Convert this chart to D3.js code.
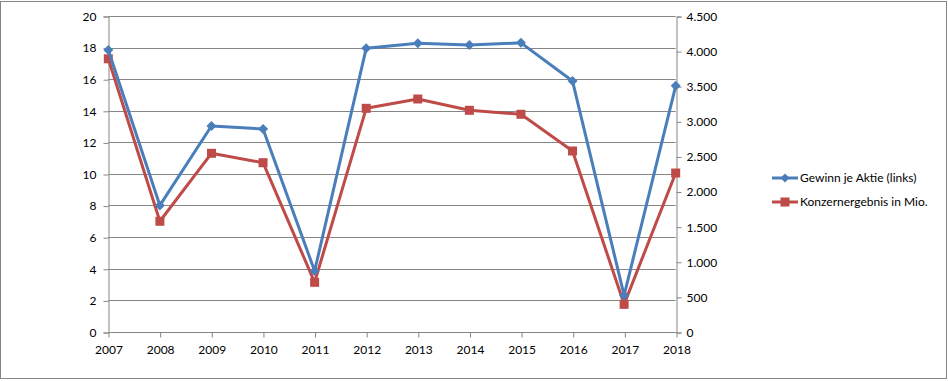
<!DOCTYPE html>
<html><head><meta charset="utf-8">
<script src="https://cdn.jsdelivr.net/npm/d3@7"></script>
<style>body{margin:0;background:#fff}svg{display:block}text{font-family:Lato,"Open Sans",sans-serif;font-size:12px;fill:#000}</style>
</head><body><svg id="c" width="948" height="381"></svg>
<script>
const years = ["2007","2008","2009","2010","2011","2012","2013","2014","2015","2016","2017","2018"];
const gewinn = [17.85,8.0,13.03,12.84,3.85,17.95,18.27,18.16,18.3,15.88,2.3,15.58];
const konzern = [3890,1574,2543,2409,704,3184,3317,3156,3099,2576,390,2262];
const leftTicks = [0,2,4,6,8,10,12,14,16,18,20];
const rightTicks = [0,500,1000,1500,2000,2500,3000,3500,4000,4500];
const seriesNames = ["Gewinn je Aktie (links)","Konzernergebnis in Mio."];

const svg = d3.select("#c");
const L=108.3,R=675.7,T=16,B=331.7;
const blue="#4a7ebb", red="#be4b48", grid="#868686";
svg.append("rect").attr("x",0.5).attr("y",1.5).attr("width",946).attr("height",377).attr("fill","#fff").attr("stroke","#868686");

const x = d3.scalePoint().domain(years).range([L,R]);
const yL = d3.scaleLinear().domain([0,20]).range([B,T]);
const yR = d3.scaleLinear().domain([0,4500]).range([B,B-(B-T)*4500/4500]);

// gridlines
svg.append("g").selectAll("line").data(leftTicks.slice(1)).join("line")
  .attr("x1",L).attr("x2",R).attr("y1",d=>Math.round(yL(d))+0.5).attr("y2",d=>Math.round(yL(d))+0.5)
  .attr("stroke",grid).attr("stroke-width",1);

const fmt = d => d.toLocaleString("de-DE");
const gl = svg.append("g").attr("transform",`translate(${Math.round(L)+0.5},0)`)
  .call(d3.axisLeft(d3.scaleLinear().domain([0,20]).range([B,T].map(v=>Math.round(v)+0.5))).tickValues(leftTicks).tickSize(5).tickPadding(7));
const gr = svg.append("g").attr("transform",`translate(${Math.round(R)+0.5},0)`)
  .call(d3.axisRight(d3.scaleLinear().domain([0,4500]).range([Math.round(B)+0.5,Math.round(T)+0.5])).tickValues(rightTicks).tickFormat(fmt).tickSize(5).tickPadding(5));
const xa = d3.scalePoint().domain(years).range([Math.round(L)+0.5,Math.round(R)+0.5]);
const gx = svg.append("g").attr("transform",`translate(0,${Math.round(B)+0.5})`)
  .call(d3.axisBottom(xa).tickSize(5).tickPadding(8));
[gl,gr,gx].forEach(g=>{g.select(".domain").attr("stroke",grid);g.selectAll(".tick line").attr("stroke",grid);
  g.selectAll("text").style("font-family","Lato, 'Open Sans', sans-serif").style("font-size","12px").attr("fill","#000");});
gx.select(".domain").attr("d",`M${Math.round(L)+0.5},0H${Math.round(R)+0.5}`);

// red series
const lineR = d3.line().x((d,i)=>x(years[i])).y(d=>yR(d));
svg.append("path").attr("d",lineR(konzern)).attr("fill","none").attr("stroke",red).attr("stroke-width",3).attr("stroke-linejoin","round");
svg.append("g").selectAll("rect").data(konzern).join("rect")
  .attr("x",(d,i)=>x(years[i])-4.5).attr("y",d=>yR(d)-4.5).attr("width",9).attr("height",9).attr("fill",red);

// blue series
const lineB = d3.line().x((d,i)=>x(years[i])).y(d=>yL(d));
svg.append("path").attr("d",lineB(gewinn)).attr("fill","none").attr("stroke",blue).attr("stroke-width",3).attr("stroke-linejoin","round");
const diamond = s=>`M0,${-s}L${s},0L0,${s}L${-s},0Z`;
svg.append("g").selectAll("path").data(gewinn).join("path")
  .attr("transform",(d,i)=>`translate(${x(years[i])},${yL(d)})`).attr("d",diamond(5)).attr("fill",blue);

// legend
const leg = svg.append("g");
const ly=[178,202], cols=[blue,red];
seriesNames.forEach((n,i)=>{
  leg.append("line").attr("x1",772).attr("x2",798).attr("y1",ly[i]).attr("y2",ly[i]).attr("stroke",cols[i]).attr("stroke-width",3);
  if(i===0) leg.append("path").attr("transform",`translate(785,${ly[i]})`).attr("d",diamond(4.5)).attr("fill",blue);
  else leg.append("rect").attr("x",780.5).attr("y",ly[i]-4.5).attr("width",9).attr("height",9).attr("fill",red);
  leg.append("text").attr("x",800).attr("y",ly[i]).attr("dy","0.35em").text(n);
});
</script></body></html>
